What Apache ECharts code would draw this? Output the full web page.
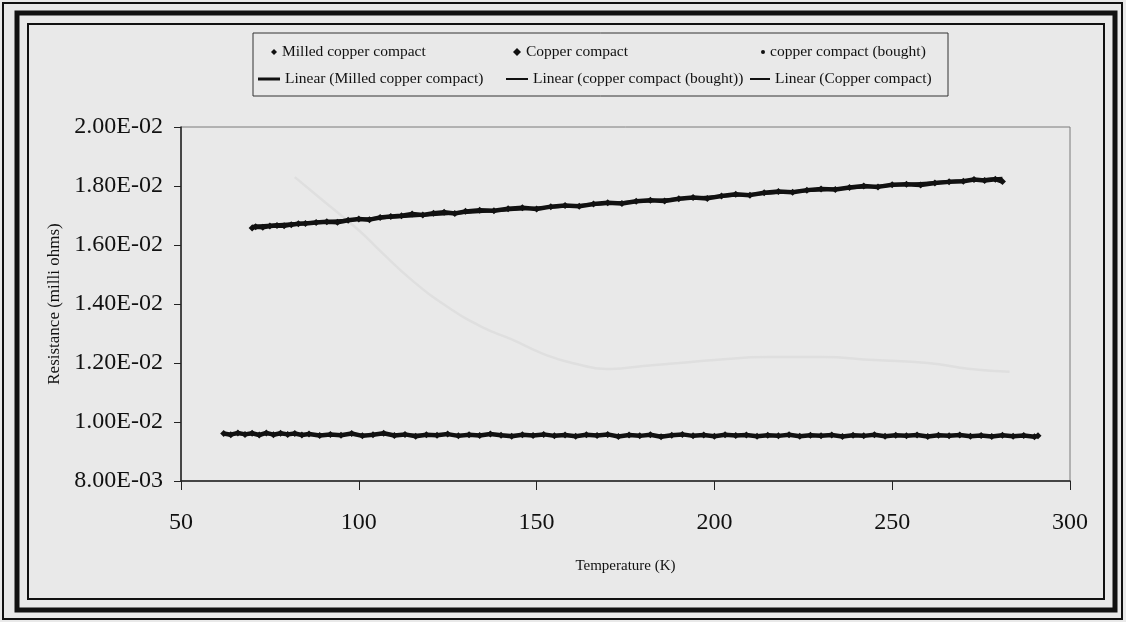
<!DOCTYPE html>
<html>
<head>
<meta charset="utf-8">
<script src="https://cdn.jsdelivr.net/npm/echarts@6/dist/echarts.min.js"></script>
<style>
  html, body { margin: 0; padding: 0; background: #e9e9e9; }
  #chart { width: 1126px; height: 622px; }
</style>
</head>
<body>
<div id="chart"></div>
<script>
// axis ticks
const xTicks = [50, 100, 150, 200, 250, 300];
const yTicks = [0.008, 0.010, 0.012, 0.014, 0.016, 0.018, 0.020];

// Milled copper compact (temperature K, resistance)
const milledT = [70, 71, 73, 75, 77, 79, 81, 83, 85, 88, 91, 94, 97, 100, 103, 106, 109, 112, 115, 118,
  121, 124, 127, 130, 134, 138, 142, 146, 150, 154, 158, 162, 166, 170, 174, 178, 182, 186, 190, 194,
  198, 202, 206, 210, 214, 218, 222, 226, 230, 234, 238, 242, 246, 250, 254, 258, 262, 266, 270, 273,
  276, 279, 281];
const milledR = [0.01658, 0.01662, 0.01660, 0.01664, 0.01666, 0.01665, 0.01669, 0.01672, 0.01673, 0.01676,
  0.01679, 0.01677, 0.01684, 0.01688, 0.01686, 0.01693, 0.01697, 0.01699, 0.01705, 0.01702,
  0.01708, 0.01711, 0.01707, 0.01714, 0.01718, 0.01716, 0.01723, 0.01726, 0.01722, 0.01730,
  0.01734, 0.01731, 0.01739, 0.01743, 0.01741, 0.01748, 0.01752, 0.01749, 0.01757, 0.01761,
  0.01758, 0.01766, 0.01772, 0.01769, 0.01777, 0.01781, 0.01779, 0.01786, 0.01790, 0.01788,
  0.01795, 0.01800, 0.01797, 0.01804, 0.01806, 0.01803, 0.01810, 0.01814, 0.01816, 0.01822,
  0.01819, 0.01823, 0.01815];

// Copper compact
const copperT = [62, 64, 66, 68, 70, 72, 74, 76, 78, 80, 82, 84, 86, 89, 92, 95, 98, 101, 104, 107,
  110, 113, 116, 119, 122, 125, 128, 131, 134, 137, 140, 143, 146, 149, 152, 155, 158, 161, 164, 167,
  170, 173, 176, 179, 182, 185, 188, 191, 194, 197, 200, 203, 206, 209, 212, 215, 218, 221, 224, 227,
  230, 233, 236, 239, 242, 245, 248, 251, 254, 257, 260, 263, 266, 269, 272, 275, 278, 281, 284, 287,
  290, 291];
const copperR = [0.00961, 0.00957, 0.00963, 0.00958, 0.00962, 0.00956, 0.00963, 0.00957, 0.00962, 0.00958,
  0.00961, 0.00956, 0.00959, 0.00954, 0.00958, 0.00955, 0.00961, 0.00953, 0.00957, 0.00962,
  0.00954, 0.00958, 0.00952, 0.00957, 0.00955, 0.00959, 0.00953, 0.00957, 0.00954, 0.00959,
  0.00955, 0.00952, 0.00957, 0.00954, 0.00958, 0.00953, 0.00956, 0.00952, 0.00957, 0.00954,
  0.00958, 0.00951, 0.00956, 0.00953, 0.00957, 0.00950, 0.00955, 0.00958, 0.00953, 0.00956,
  0.00952, 0.00957, 0.00954, 0.00956, 0.00952, 0.00955, 0.00953, 0.00957, 0.00952, 0.00955,
  0.00953, 0.00956, 0.00951, 0.00955, 0.00953, 0.00957, 0.00952, 0.00955, 0.00953, 0.00956,
  0.00951, 0.00955, 0.00953, 0.00956, 0.00952, 0.00954, 0.00951, 0.00955, 0.00952, 0.00954,
  0.00950, 0.00953];

// copper compact (bought) - very faint on the scan
const boughtT = [82, 90, 100, 106, 115, 125, 135, 143, 152, 160, 171, 180, 190, 200, 215, 230, 245, 260, 272, 283];
const boughtR = [0.0183, 0.0175, 0.0165, 0.0158, 0.0148, 0.0139, 0.0132, 0.0128, 0.0123, 0.0120,
  0.0118, 0.0119, 0.0120, 0.0121, 0.0122, 0.0122, 0.0121, 0.0120, 0.0118, 0.0117];

const pairs = (xs, ys) => xs.map((x, i) => [x, ys[i]]);

// least squares trend line (Excel "Linear" trendline)
function trend(xs, ys) {
  const n = xs.length;
  let sx = 0, sy = 0, sxx = 0, sxy = 0;
  for (let i = 0; i < n; i++) {
    sx += xs[i]; sy += ys[i]; sxx += xs[i] * xs[i]; sxy += xs[i] * ys[i];
  }
  const b = (n * sxy - sx * sy) / (n * sxx - sx * sx);
  const a = (sy - b * sx) / n;
  const x0 = xs[0], x1 = xs[n - 1];
  return [[x0, a + b * x0], [x1, a + b * x1]];
}

function sci(v) {
  const parts = v.toExponential(2).split('e');
  const e = parseInt(parts[1], 10);
  return parts[0] + 'E' + (e < 0 ? '-' : '+') + String(Math.abs(e)).padStart(2, '0');
}

const serif = 'Liberation Serif';
const ink = '#111';

function legendItem(name, icon, left, top, w, h) {
  return {
    data: [{ name: name, icon: icon, itemStyle: { color: ink } }],
    left: left, top: top, itemWidth: w, itemHeight: h, itemGap: 0,
    selectedMode: false, padding: 0,
    textStyle: { fontFamily: serif, fontSize: 15.5, color: ink }
  };
}

const chart = echarts.init(document.getElementById('chart'));
chart.setOption({
  animation: false,
  backgroundColor: '#e9e9e9',
  grid: {
    left: 181, right: 56, top: 127, bottom: 141,
    show: true, borderColor: '#7a7a7a', borderWidth: 1
  },
  graphic: [
    { type: 'rect', shape: { x: 3, y: 3, width: 1119, height: 616 }, style: { fill: null, stroke: ink, lineWidth: 2 } },
    { type: 'rect', shape: { x: 17, y: 13, width: 1098, height: 597 }, style: { fill: null, stroke: ink, lineWidth: 5 } },
    { type: 'rect', shape: { x: 28, y: 24, width: 1076, height: 575 }, style: { fill: null, stroke: ink, lineWidth: 2 } },
    { type: 'rect', shape: { x: 253, y: 33, width: 695, height: 63 }, style: { fill: null, stroke: '#333', lineWidth: 1 } }
  ],
  legend: [
    legendItem('Milled copper compact', 'diamond', 271, 44, 6, 6),
    legendItem('Copper compact', 'diamond', 513, 44, 8, 8),
    legendItem('copper compact (bought)', 'circle', 761, 44, 4, 4),
    legendItem('Linear (Milled copper compact)', 'rect', 258, 71, 22, 3),
    legendItem('Linear (copper compact (bought))', 'rect', 506, 71, 22, 2),
    legendItem('Linear (Copper compact)', 'rect', 750, 71, 20, 2)
  ],
  xAxis: {
    type: 'value',
    min: xTicks[0], max: xTicks[xTicks.length - 1], interval: xTicks[1] - xTicks[0],
    name: 'Temperature (K)', nameLocation: 'middle', nameGap: 78,
    nameTextStyle: { fontFamily: serif, fontSize: 15, color: ink },
    axisLine: { lineStyle: { color: '#222', width: 1.5 } },
    axisTick: { inside: false, length: 9, lineStyle: { color: '#222' } },
    axisLabel: { fontFamily: serif, fontSize: 24, color: ink, margin: 30 },
    splitLine: { show: false }
  },
  yAxis: {
    type: 'value',
    min: yTicks[0], max: yTicks[yTicks.length - 1], interval: 0.002,
    name: 'Resistance (milli ohms)', nameLocation: 'middle', nameGap: 106,
    nameTextStyle: { fontFamily: serif, fontSize: 17, color: ink },
    axisLine: { show: true, lineStyle: { color: '#222', width: 1.5 } },
    axisTick: { show: true, inside: false, length: 7, lineStyle: { color: '#222' } },
    axisLabel: { fontFamily: serif, fontSize: 24, color: ink, margin: 18, formatter: sci },
    splitLine: { show: false }
  },
  series: [
    {
      name: 'copper compact (bought)', type: 'line', data: pairs(boughtT, boughtR),
      smooth: true, showSymbol: false, symbol: 'circle', symbolSize: 4,
      lineStyle: { color: '#dfdfdf', width: 2.5 }, itemStyle: { color: ink }, z: 1
    },
    {
      name: 'Linear (copper compact (bought))', type: 'line', data: [],
      showSymbol: false, lineStyle: { color: ink, width: 1 }, itemStyle: { color: ink }
    },
    {
      name: 'Linear (Milled copper compact)', type: 'line', data: trend(milledT, milledR),
      showSymbol: false, lineStyle: { color: ink, width: 3 }, itemStyle: { color: ink }, z: 2
    },
    {
      name: 'Linear (Copper compact)', type: 'line', data: trend(copperT, copperR),
      showSymbol: false, lineStyle: { color: ink, width: 2 }, itemStyle: { color: ink }, z: 2
    },
    {
      name: 'Milled copper compact', type: 'line', data: pairs(milledT, milledR),
      symbol: 'diamond', symbolSize: 7, showAllSymbol: true,
      lineStyle: { color: ink, width: 4.5 }, itemStyle: { color: ink }, z: 3
    },
    {
      name: 'Copper compact', type: 'line', data: pairs(copperT, copperR),
      symbol: 'diamond', symbolSize: 7, showAllSymbol: true,
      lineStyle: { color: ink, width: 4.5 }, itemStyle: { color: ink }, z: 3
    }
  ]
});
</script>
</body>
</html>
